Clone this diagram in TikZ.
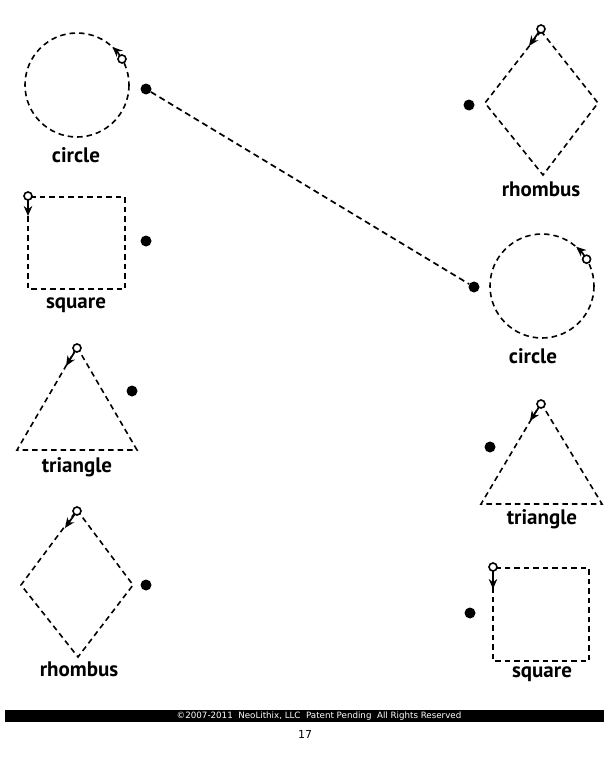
\documentclass[tikz,border=0pt]{standalone}
\usepackage{fontspec}
\setmainfont{PT Sans}
\newfontfamily\footfont{DejaVu Sans}
\usetikzlibrary{arrows.meta}
\begin{document}
\begin{tikzpicture}[x=1pt,y=-1pt,
  shape line/.style={dash pattern=on 5.5pt off 4pt, line width=1.6pt},
  start mark/.style={draw, circle, line width=1.6pt, inner sep=0pt, minimum size=8pt, fill=white},
  go arrow/.style={line width=1.7pt, -{Stealth[length=10pt,width=8.5pt]}},
  dotnode/.style={circle, fill=black, inner sep=0pt, minimum size=11pt},
  lbl/.style={font=\fontsize{21}{21}\selectfont\bfseries, anchor=base, inner sep=0pt},
  link/.style={dash pattern=on 6pt off 4pt, line width=1.7pt}
]
\useasboundingbox (0,0) rectangle (614,768);
\fill[white] (0,0) rectangle (614,768);

% ---- left column ----
% circle
\draw[shape line] (77,85) circle[radius=52];
\draw[go arrow] (122.0,59.0) arc[start angle=-30, end angle=-47, radius=52];
\node[start mark] (lcs) at (122.0,59.0) {};
\node[dotnode] (lcd) at (146,89) {};
\node[lbl] (lcl) at (76,162) {circle};

% square
\draw[shape line] (28,197) rectangle (125,289);
\draw[go arrow] (28,196) -- (28,216);
\node[start mark] (lss) at (28,196) {};
\node[dotnode] (lsd) at (146,241) {};
\node[lbl] (lsl) at (76,308) {square};

% triangle
\draw[shape line] (77,347) -- (137,450) -- (17,450) -- cycle;
\draw[go arrow] (77,348) -- (66,366);
\node[start mark] (lts) at (77,348) {};
\node[dotnode] (ltd) at (132,391) {};
\node[lbl] (ltl) at (77,472) {triangle};

% rhombus
\draw[shape line] (77,510) -- (133,585) -- (78,657) -- (21,585) -- cycle;
\draw[go arrow] (77,511) -- (65,528);
\node[start mark] (lrs) at (77,511) {};
\node[dotnode] (lrd) at (146,585) {};
\node[lbl] (lrl) at (79,676) {rhombus};

% ---- right column ----
% rhombus
\draw[shape line] (541,31) -- (598,103) -- (543,175) -- (485,103) -- cycle;
\draw[go arrow] (541,29) -- (529,46);
\node[start mark] (rrs) at (541,29) {};
\node[dotnode] (rrd) at (469,105) {};
\node[lbl] (rrl) at (541,196) {rhombus};

% circle
\draw[shape line] (542,286) circle[radius=52];
\draw[go arrow] (586.6,259.2) arc[start angle=-31, end angle=-49, radius=52];
\node[start mark] (rcs) at (586.6,259.2) {};
\node[dotnode] (rcd) at (474,287) {};
\node[lbl] (rcl) at (533,363) {circle};

% triangle
\draw[shape line] (541,403) -- (602,504) -- (481,504) -- cycle;
\draw[go arrow] (541,404) -- (530,421);
\node[start mark] (rts) at (541,404) {};
\node[dotnode] (rtd) at (490,447) {};
\node[lbl] (rtl) at (542,524) {triangle};

% square
\draw[shape line] (493,568) rectangle (589,661);
\draw[go arrow] (493,567) -- (493,589);
\node[start mark] (rss) at (493,567) {};
\node[dotnode] (rsd) at (470,613) {};
\node[lbl] (rsl) at (542,677) {square};

% ---- connector ----
\draw[link] (lcd) -- (rcd);

% ---- footer ----
\fill[black] (5,710) rectangle (604,722);
\node[text=white, font=\footfont\fontsize{8.7}{9}\selectfont, inner sep=0pt] (foot) at (319,716.3) {©2007-2011\ \ NeoLithix, LLC\ \ Patent Pending\ \ All Rights Reserved};
\node[font=\footfont\fontsize{11}{11}\selectfont, inner sep=0pt] (page) at (305,734) {17};
\end{tikzpicture}
\end{document}
